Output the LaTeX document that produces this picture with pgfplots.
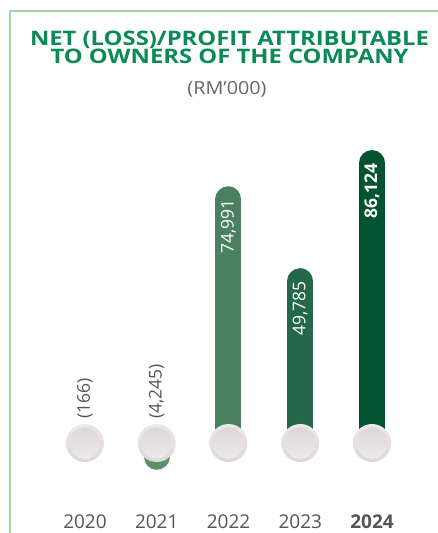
\documentclass[border=0pt]{standalone}
\usepackage{pgfplots}
\pgfplotsset{compat=1.18}
\usepackage{fontspec}
\setmainfont{Open Sans}
\newfontfamily\titlefont[FakeStretch=1.19]{Open Sans}
\newfontfamily\subfont[FakeStretch=1.1]{Open Sans}

\definecolor{titlegreen}{HTML}{0B8A57}
\definecolor{framegreen}{HTML}{A5D3A5}
\definecolor{txtgrey}{HTML}{555555}
\definecolor{subgrey}{HTML}{666666}
\definecolor{cA}{HTML}{7EBF86}
\definecolor{cB}{HTML}{5A9168}
\definecolor{cC}{HTML}{4A805F}
\definecolor{cD}{HTML}{24674A}
\definecolor{cE}{HTML}{02532F}
\definecolor{ringtop}{HTML}{F4F1F3}
\definecolor{ringbot}{HTML}{D6CDD2}
\definecolor{disctop}{HTML}{D5CDD1}
\definecolor{discbot}{HTML}{F5F3F4}

\pgfdeclareverticalshading{ringshade}{100bp}{color(0bp)=(ringbot); color(100bp)=(ringtop)}
\pgfdeclareverticalshading{discshade}{100bp}{color(0bp)=(discbot); color(100bp)=(disctop)}
\pgfdeclareplotmark{disc}{%
  \pgfpathcircle{\pgfpointorigin}{\pgfplotmarksize}%
  \pgfshadepath{ringshade}{0}\pgfusepath{discard}%
  \pgfpathcircle{\pgfpointorigin}{0.82\pgfplotmarksize}%
  \pgfshadepath{discshade}{0}\pgfusepath{discard}%
}

\begin{document}
\begin{tikzpicture}
\path[use as bounding box] (0,0) rectangle (438pt,533pt);
% frame
\draw[framegreen, line width=1.4pt] (10pt,0pt) -- (10pt,522pt) -- (438pt,522pt);
% title
\node[anchor=base, font=\titlefont\fontsize{20}{20}\selectfont\bfseries, text=titlegreen] at (229.5pt,487.5pt) {NET (LOSS)/PROFIT ATTRIBUTABLE};
\node[anchor=base, font=\titlefont\fontsize{20}{20}\selectfont\bfseries, text=titlegreen] at (229.5pt,469pt) {TO OWNERS OF THE COMPANY};
\node[anchor=base, font=\subfont\fontsize{18}{18}\selectfont, text=subgrey] at (227pt,438pt) {(RM’000)};

\begin{axis}[
    at={(49.1pt,25pt)}, anchor=south west,
    scale only axis,
    width=358.8pt, height=390pt,
    xmin=-0.5, xmax=4.5,
    ymin=-20000, ymax=100000,
    axis line style={draw=none},
    major tick length=0pt,
    ytick=\empty,
    xtick={0,1,2,3,4},
    xticklabels={2020,2021,2022,2023,\textbf{2024}},
    xticklabel style={anchor=base, yshift=-20pt, font=\fontsize{19}{19}\selectfont, text=txtgrey},
    clip=false,
    every node near coord/.style={rotate=90, anchor=east, inner sep=0pt, text=white, font=\fontsize{17.5}{17.5}\selectfont},
]
% bars
\addplot[cA, line width=26pt, line cap=round, mark=none] coordinates {(0,0) (0,-166)};
\addplot[cB, line width=26pt, line cap=round, mark=none] coordinates {(1,0) (1,-4245)};
\addplot[cC, line width=26pt, line cap=round, mark=none] coordinates {(2,0) (2,74991)};
\addplot[cD, line width=26pt, line cap=round, mark=none] coordinates {(3,0) (3,49785)};
\addplot[cE, line width=26pt, line cap=round, mark=none] coordinates {(4,0) (4,86124)};
% baseline discs
\addplot[only marks, mark=disc, mark size=19pt] coordinates {(0,0) (1,0) (2,0) (3,0) (4,0)};
% value labels
\addplot[draw=none, mark=none, nodes near coords={74,991}] coordinates {(2,74991)};
\addplot[draw=none, mark=none, nodes near coords={49,785}] coordinates {(3,49785)};
\addplot[draw=none, mark=none, nodes near coords={\bfseries 86,124}] coordinates {(4,86124)};
\addplot[draw=none, mark=none, nodes near coords={(166)},
  every node near coord/.style={yshift=24pt, rotate=90, anchor=west, inner sep=0pt, text=txtgrey, font=\fontsize{17.5}{17.5}\selectfont}] coordinates {(0,0)};
\addplot[draw=none, mark=none, nodes near coords={(4,245)},
  every node near coord/.style={yshift=24pt, rotate=90, anchor=west, inner sep=0pt, text=txtgrey, font=\fontsize{17.5}{17.5}\selectfont}] coordinates {(1,0)};
\end{axis}
\end{tikzpicture}
\end{document}
